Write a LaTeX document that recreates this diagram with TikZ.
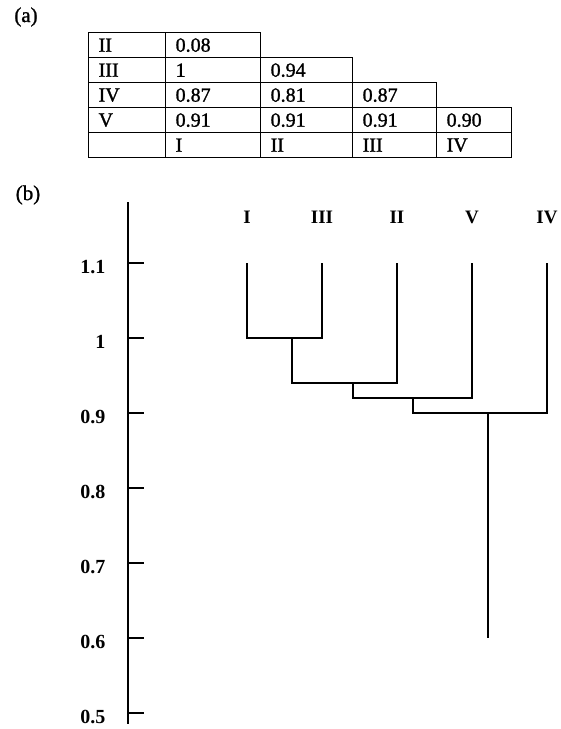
\documentclass[tikz,border=0pt]{standalone}
\usepackage{fontspec}
\setmainfont{Liberation Serif}
\newfontfamily\scanfont[FakeBold=1.2]{Liberation Serif}
\usepackage{tikz}
\usetikzlibrary{positioning}
\tikzstyle{cell} = [rectangle, draw, line width=1.3pt, anchor=north west,
                    minimum height=25pt, inner xsep=10pt, inner ysep=0pt,
                    align=left, font=\scanfont\fontsize{20}{22}\selectfont]
\tikzstyle{part} = [font=\scanfont\fontsize{21}{22}\selectfont]
\tikzstyle{leaf} = [font=\bfseries\fontsize{19}{22}\selectfont]
\tikzstyle{ticklab} = [anchor=east, font=\bfseries\fontsize{20}{22}\selectfont]
\tikzstyle{branch} = [line width=1.5pt]
\tikzstyle{axis} = [line width=2pt]
\newcommand{\tabcell}[5]{%
  \pgfmathsetmacro{\cellw}{#4-20}%
  \node[cell, minimum width=#4pt, text width=\cellw pt] (#1) at (#2,#3) {#5};}

\begin{document}
\begin{tikzpicture}[x=1pt, y=-1pt]
    \useasboundingbox (0,0) rectangle (561,729);
    \node[part] (parta) at (26,17) {(a)};
    \node[part] (partb) at (28,195) {(b)};

    % similarity table
    \tabcell{r1c0}{88}{32}{77}{II}
    \tabcell{r1c1}{165}{32}{95}{0.08}
    \tabcell{r2c0}{88}{57}{77}{III}
    \tabcell{r2c1}{165}{57}{95}{1}
    \tabcell{r2c2}{260}{57}{92}{0.94}
    \tabcell{r3c0}{88}{82}{77}{IV}
    \tabcell{r3c1}{165}{82}{95}{0.87}
    \tabcell{r3c2}{260}{82}{92}{0.81}
    \tabcell{r3c3}{352}{82}{84}{0.87}
    \tabcell{r4c0}{88}{107}{77}{V}
    \tabcell{r4c1}{165}{107}{95}{0.91}
    \tabcell{r4c2}{260}{107}{92}{0.91}
    \tabcell{r4c3}{352}{107}{84}{0.91}
    \tabcell{r4c4}{436}{107}{75}{0.90}
    \tabcell{r5c0}{88}{132}{77}{}
    \tabcell{r5c1}{165}{132}{95}{I}
    \tabcell{r5c2}{260}{132}{92}{II}
    \tabcell{r5c3}{352}{132}{84}{III}
    \tabcell{r5c4}{436}{132}{75}{IV}

    % dendrogram axis
    \coordinate (atop) at (128,202);
    \coordinate (abot) at (128,724);
    \draw[axis] (atop) -- (abot);
    \foreach \v/\y [count=\i] in {1.1/263,1/338,0.9/413,0.8/488,0.7/563,0.6/638,0.5/713} {
        \draw[branch] (128,\y) -- ++(16,0);
        \node[ticklab] (tick\i) at (109,\y+4) {\v};
    }

    % leaves
    \foreach \lab/\x in {I/247,III/322,II/397,V/472,IV/547} {
        \node[leaf] (n\lab) at (\x,217) {\lab};
        \coordinate (t\lab) at (\x,263);
    }

    % merges
    \coordinate (m1) at (292,338);
    \coordinate (m2) at (353,383);
    \coordinate (m3) at (413,398);
    \coordinate (m4) at (488,413);
    \coordinate (root) at (488,638);

    \draw[branch] (tI) |- (m1) -| (tIII);
    \draw[branch] (m1) |- (m2) -| (tII);
    \draw[branch] (m2) |- (m3) -| (tV);
    \draw[branch] (m3) |- (m4) -| (tIV);
    \draw[branch] (m4) -- (root);
\end{tikzpicture}
\end{document}
